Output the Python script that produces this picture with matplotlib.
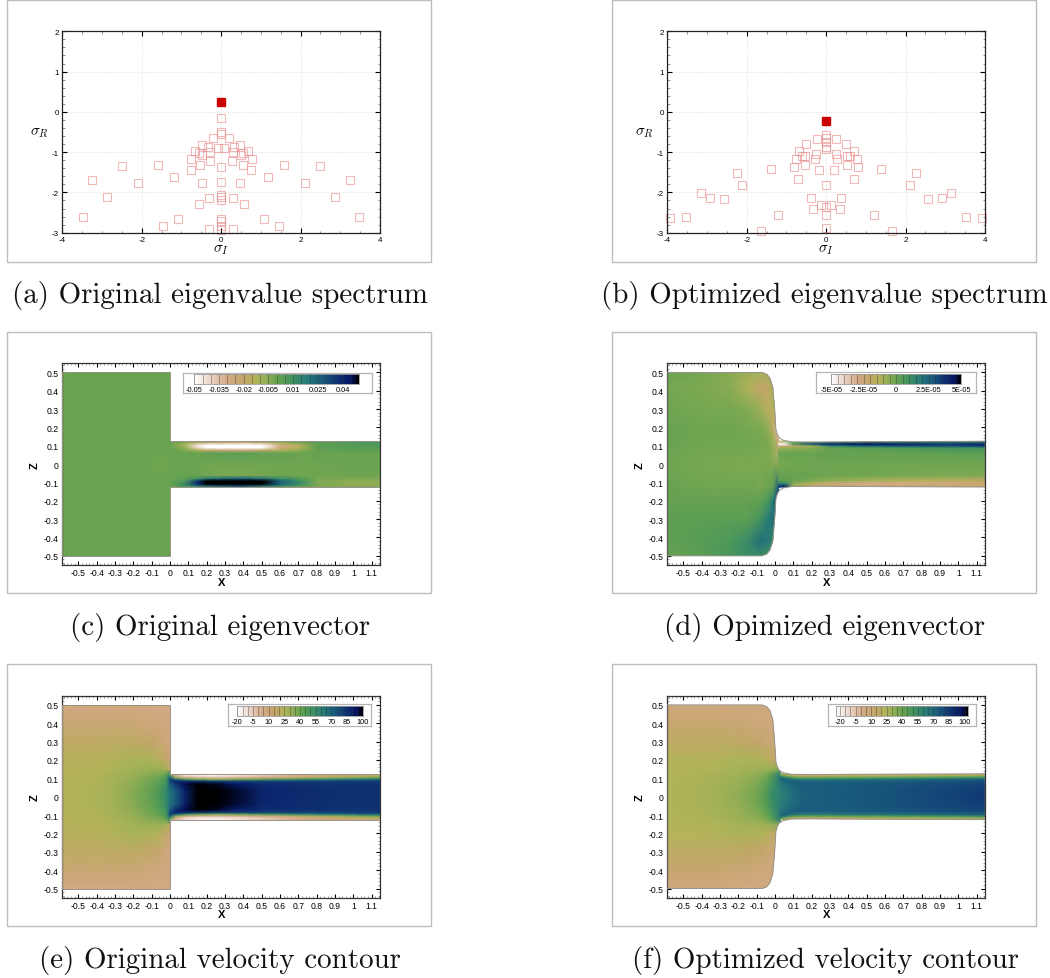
import numpy as np
import matplotlib
matplotlib.use("Agg")
import matplotlib.pyplot as plt
from matplotlib.colors import LinearSegmentedColormap, Normalize
from matplotlib.patches import Polygon, Rectangle
from matplotlib.ticker import MultipleLocator

W = 1050
H = 979

plt.rcParams['font.family'] = ['Liberation Sans', 'DejaVu Sans']
plt.rcParams['mathtext.fontset'] = 'cm'

# eigenvalue spectra, pairs are +/- sigma_I
a_unstable = (0.0, 0.25)
a_center = [-0.16, -0.5, -0.56, -1.38, -1.73, -2.07, -2.12, -2.19, -2.65, -2.71, -2.84, -2.93]
a_pair_i = [0.2, 0.48, 0.32, 0.08, 0.67, 0.29, 0.56, 0.49, 0.77, 0.27, 0.54, 0.76, 1.59, 2.5,
            1.18, 3.25, 2.1, 0.47, 2.87, 0.3, 0.57, 3.48, 1.09, 1.46, 0.31]
a_pair_r = [-0.64, -0.83, -0.88, -0.9, -0.97, -1.0, -1.03, -1.06, -1.17, -1.22, -1.32, -1.45, -1.33, -1.34,
            -1.62, -1.69, -1.76, -1.76, -2.11, -2.15, -2.28, -2.6, -2.67, -2.83, -2.91]

b_unstable = (0.0, -0.215)
b_center = [-0.58, -0.66, -0.75, -0.87, -0.93, -1.82, -2.36, -2.56, -2.88]
b_pair_i = [0.24, 0.51, 0.69, 0.26, 0.61, 0.52, 0.27, 0.77, 0.52, 0.81, 0.19, 1.39, 2.25, 0.71,
            2.11, 3.15, 2.92, 2.56, 0.38, 0.13, 0.34, 1.2, 3.53, 3.93, 1.65]
b_pair_r = [-0.67, -0.79, -0.97, -1.04, -1.09, -1.09, -1.17, -1.17, -1.32, -1.38, -1.44, -1.41, -1.51, -1.66,
            -1.82, -2.01, -2.13, -2.17, -2.15, -2.31, -2.4, -2.55, -2.62, -2.63, -2.95]

spec_xticks = [-4, -2, 0, 2, 4]
spec_yticks = [-3, -2, -1, 0, 1, 2]
field_xticks = [-0.5, -0.4, -0.3, -0.2, -0.1, 0, 0.1, 0.2, 0.3, 0.4, 0.5, 0.6, 0.7, 0.8, 0.9, 1, 1.1]
field_xlabels = ['-0.5', '-0.4', '-0.3', '-0.2', '-0.1', '0', '0.1', '0.2', '0.3', '0.4', '0.5', '0.6',
                 '0.7', '0.8', '0.9', '1', '1.1']
field_zticks = [-0.5, -0.4, -0.3, -0.2, -0.1, 0, 0.1, 0.2, 0.3, 0.4, 0.5]
field_zlabels = ['-0.5', '-0.4', '-0.3', '-0.2', '-0.1', '0', '0.1', '0.2', '0.3', '0.4', '0.5']

# geometry: upper half wall of the original and optimized nozzle
orig_wall_x = [-0.589, 0.0, 0.0, 1.147]
orig_wall_z = [0.5, 0.5, 0.125, 0.125]
opt_wall_x = [-0.589, -0.07, -0.045, -0.028, -0.012, -0.002, 0.005, 0.012, 0.022, 0.045, 0.09, 0.2, 1.147]
opt_wall_z = [0.5, 0.5, 0.49, 0.47, 0.42, 0.3, 0.19, 0.165, 0.145, 0.13, 0.122, 0.121, 0.125]

# panel c, eigenvector original
c_plen_x = [-0.589, -0.1, 0.0]
c_plen_z = [-0.5, -0.1, 0.0, 0.1, 0.5]
c_plen_v = [[0, 0, 0],
            [0, 0, 0],
            [0, -0.0005, -0.001],
            [0, 0, 0],
            [0, 0, 0]]
c_chan_x = [0, 0.08, 0.15, 0.2, 0.3, 0.4, 0.5, 0.6, 0.7, 0.8, 1.0, 1.147]
c_chan_z = [-0.125, -0.118, -0.108, -0.09, -0.078, -0.06, 0, 0.06, 0.078, 0.09, 0.105, 0.118, 0.125]
c_chan_v = [[0, 0.002, 0.004, 0.006, 0.01, 0.01, 0.006, 0.003, 0.0, -0.002, -0.003, -0.003],
            [0, 0.008, 0.018, 0.024, 0.03, 0.032, 0.022, 0.012, 0.004, -0.003, -0.005, -0.004],
            [0, 0.012, 0.04, 0.06, 0.07, 0.075, 0.055, 0.025, 0.014, -0.003, -0.007, -0.006],
            [0, 0.006, 0.035, 0.055, 0.065, 0.07, 0.05, 0.025, 0.012, -0.003, -0.006, -0.005],
            [0, 0.002, 0.01, 0.018, 0.024, 0.026, 0.02, 0.012, 0.005, -0.002, -0.003, -0.003],
            [0, 0, 0.0, -0.002, -0.003, -0.003, -0.002, -0.001, -0.001, -0.001, -0.001, -0.001],
            [0, 0, -0.0005, -0.001, -0.001, -0.001, -0.001, -0.001, -0.001, -0.001, 0, 0],
            [0, 0, 0.0005, 0.002, 0.003, 0.003, 0.002, 0.001, 0.0, 0, 0, 0],
            [0, -0.003, -0.012, -0.02, -0.026, -0.028, -0.022, -0.014, -0.006, 0.001, 0.002, 0.002],
            [0, -0.007, -0.04, -0.06, -0.07, -0.07, -0.05, -0.026, -0.014, 0.002, 0.004, 0.005],
            [0, -0.012, -0.045, -0.065, -0.08, -0.08, -0.055, -0.028, -0.015, 0.002, 0.005, 0.006],
            [0, -0.005, -0.018, -0.025, -0.03, -0.032, -0.022, -0.01, -0.003, 0.003, 0.006, 0.008],
            [0, -0.002, -0.003, -0.005, -0.006, -0.006, -0.004, -0.002, 0, 0.002, 0.003, 0.004]]

# panel d, eigenvector optimized, values in 1e-5
d_plen_x = [-0.589, -0.4, -0.25, -0.15, -0.08, -0.04, -0.01, 0.02]
d_plen_z = [-0.5, -0.42, -0.3, -0.2, -0.13, 0, 0.13, 0.2, 0.3, 0.42, 0.5]
d_plen_v = [[0.0, 0.3, 0.8, 1.2, 1.2, 0.8, 0.5, 0.3],
            [0.2, 0.4, 0.6, 1.2, 2.2, 2.0, 1.2, 0.5],
            [0.2, 0.3, 0.3, 0.3, 0.9, 1.8, 2.3, 0.8],
            [0.1, 0.1, 0.1, 0.1, 0.2, 0.6, 1.8, 4],
            [0, -0.1, -0.1, -0.1, -0.2, 0, 0.3, 3],
            [-0.1, -0.2, -0.3, -0.3, -0.3, -0.3, -0.4, -0.5],
            [0, -0.1, -0.1, -0.1, -0.2, -0.3, -0.8, -3],
            [0, -0.1, -0.1, -0.2, -0.3, -0.6, -1.8, -4],
            [-0.1, -0.2, -0.2, -0.4, -0.8, -1.5, -1.5, -0.3],
            [-0.2, -0.3, -0.5, -1.2, -2.0, -2.0, -1.0, -0.3],
            [0, -0.2, -0.5, -0.8, -1, -0.8, -0.5, -0.3]]
d_chan_x = [0.02, 0.05, 0.1, 0.2, 0.3, 0.5, 0.7, 0.9, 1.147]
d_chan_z = [-0.125, -0.115, -0.105, -0.09, -0.06, 0, 0.06, 0.09, 0.1, 0.11, 0.125]
d_chan_v = [[4, 4, -0.5, -1, -1.3, -1.5, -1.5, -1.5, -1.8],
            [3, 3.5, -0.8, -2, -2.5, -2.6, -2.5, -2.4, -2.2],
            [1.5, 1.5, -0.5, -1.5, -2.5, -3, -3, -2.8, -2.2],
            [0.4, 0.3, 0, -0.3, -0.6, -1, -1.3, -1.5, -1.8],
            [0, 0, 0, 0, -0.1, -0.1, -0.2, -0.3, -0.3],
            [-0.3, -0.2, -0.1, -0.1, -0.1, -0.1, -0.1, -0.1, -0.1],
            [0, 0, 0, 0, 0.1, 0.1, 0.1, 0.2, 0.3],
            [-1, -0.8, -0.6, -0.5, 0.0, 0.3, 0.6, 0.8, 1],
            [-2.5, -2.5, -2, -1, 1.5, 2.5, 3, 3, 3.5],
            [-5, -5, 0.5, 3, 4, 4.5, 4, 3.5, 4],
            [-2, -1, -0.3, 0.5, 0.8, 1, 1, 1, 1.2]]

# panel e, velocity original, upper half only
e_plen_x = [-0.589, -0.4, -0.3, -0.2, -0.1, -0.05, -0.02, 0.0]
e_plen_z = [0, 0.05, 0.1, 0.125, 0.15, 0.2, 0.3, 0.4, 0.5]
e_plen_v = [[24, 26, 29, 35, 42, 50, 56, 64],
            [24, 26, 29, 34, 41, 48, 55, 68],
            [24, 25, 28, 32, 38, 42, 50, 75],
            [24, 25, 27, 30, 34, 36, 40, 60],
            [23, 24, 26, 29, 31, 31, 28, 18],
            [23, 23, 25, 27, 26, 22, 16, 10],
            [18, 18, 19, 19, 16, 12, 9, 7],
            [12, 12, 12, 11, 9, 8, 7, 6],
            [6, 6, 6, 6, 6, 6, 6, 6]]
e_chan_x = [0, 0.03, 0.08, 0.15, 0.25, 0.35, 0.5, 0.7, 0.9, 1.147]
e_chan_z = [0, 0.04, 0.07, 0.085, 0.095, 0.105, 0.115, 0.125]
e_chan_v = [[64, 72, 88, 106, 110, 98, 89, 86, 85, 85],
            [66, 74, 90, 106, 108, 97, 88, 86, 85, 85],
            [72, 84, 95, 100, 98, 92, 86, 85, 84, 84],
            [78, 88, 88, 85, 82, 80, 80, 80, 81, 82],
            [80, 70, 50, 40, 35, 38, 45, 55, 62, 68],
            [70, 30, 10, 2, 0, 2, 8, 20, 30, 40],
            [50, 5, -10, -15, -15, -12, -5, 5, 12, 22],
            [30, 0, -8, -12, -14, -10, -5, 5, 8, 15]]

# panel f, velocity optimized, upper half only
f_plen_x = [-0.589, -0.4, -0.3, -0.2, -0.1, -0.05, -0.02, 0.03]
f_plen_z = [0, 0.05, 0.1, 0.125, 0.15, 0.2, 0.3, 0.4, 0.5]
f_plen_v = [[24, 26, 28, 32, 38, 46, 55, 60],
            [24, 26, 28, 31, 37, 44, 52, 62],
            [24, 25, 27, 29, 34, 39, 47, 65],
            [24, 25, 26, 28, 31, 35, 41, 62],
            [23, 24, 25, 27, 28, 30, 30, 35],
            [23, 23, 24, 25, 25, 22, 18, 14],
            [18, 18, 18, 17, 15, 11, 8, 6],
            [12, 12, 11, 10, 8, 7, 6, 6],
            [6, 6, 6, 5, 5, 5, 5, 5]]
f_chan_x = [0.03, 0.06, 0.1, 0.15, 0.25, 0.35, 0.5, 0.7, 0.9, 1.147]
f_chan_z = [0, 0.05, 0.08, 0.095, 0.105, 0.115, 0.125]
f_chan_v = [[60, 63, 68, 72, 74, 75, 76, 78, 81, 85],
            [62, 65, 70, 73, 74, 75, 76, 78, 80, 83],
            [65, 70, 74, 74, 74, 74, 75, 76, 78, 80],
            [70, 72, 66, 62, 62, 64, 65, 67, 70, 73],
            [70, 60, 45, 40, 40, 42, 44, 47, 50, 55],
            [50, 35, 20, 18, 18, 20, 22, 25, 28, 32],
            [30, 15, 5, 5, 5, 6, 7, 8, 10, 12]]

# colour bar labels
c_bar_ticks = [-0.05, -0.035, -0.02, -0.005, 0.01, 0.025, 0.04]
c_bar_labels = ['-0.05', '-0.035', '-0.02', '-0.005', '0.01', '0.025', '0.04']
d_bar_ticks = [-5, -2.5, 0, 2.5, 5]
d_bar_labels = ['-5E-05', '-2.5E-05', '0', '2.5E-05', '5E-05']
v_bar_ticks = [-20, -5, 10, 25, 40, 55, 70, 85, 100]
v_bar_labels = ['-20', '-5', '10', '25', '40', '55', '70', '85', '100']

captions = ['(a) Original eigenvalue spectrum', '(b) Optimized eigenvalue spectrum',
            '(c) Original eigenvector', '(d) Opimized eigenvector',
            '(e) Original velocity contour', '(f) Optimized velocity contour']

cmap = LinearSegmentedColormap.from_list('tec', [
    (0.0, (1, 1, 1)),
    (0.1, (235/255, 212/255, 200/255)),
    (0.2, (212/255, 170/255, 135/255)),
    (0.3, (195/255, 165/255, 105/255)),
    (0.37, (180/255, 180/255, 90/255)),
    (0.43, (150/255, 175/255, 85/255)),
    (0.5, (105/255, 163/255, 80/255)),
    (0.58, (70/255, 150/255, 92/255)),
    (0.68, (40/255, 125/255, 120/255)),
    (0.78, (25/255, 90/255, 125/255)),
    (0.87, (15/255, 50/255, 115/255)),
    (0.95, (5/255, 20/255, 100/255)),
    (1.0, (0, 0, 0))])

fig = plt.figure(figsize=(W/100, H/100), dpi=100)


def px_axes(x0, y0, x1, y1, **kw):
    return fig.add_axes([x0/W, 1 - y1/H, (x1 - x0)/W, (y1 - y0)/H], **kw)


def frame(x0, y0, x1, y1):
    fig.add_artist(Rectangle((x0/W, 1 - y1/H), (x1 - x0)/W, (y1 - y0)/H, transform=fig.transFigure,
                             fill=False, edgecolor='#bdbdbd', linewidth=1.0))


def spectrum(box, unstable, center, pair_i, pair_r):
    ax = px_axes(*box)
    xs = np.concatenate([-np.array(pair_i), pair_i, np.zeros(len(center))])
    ys = np.concatenate([pair_r, pair_r, center])
    ax.plot(xs, ys, ls='none', marker='s', ms=5.3, mfc='none', mec='#e88a8a', mew=0.8, alpha=0.6, clip_on=False)
    ax.plot(unstable[0], unstable[1], ls='none', marker='s', ms=5.8, color='#cc0000')
    ax.set_xlim(-4, 4)
    ax.set_ylim(-3, 2)
    ax.set_xticks(spec_xticks)
    ax.set_xticklabels([str(v) for v in spec_xticks])
    ax.set_yticks(spec_yticks)
    ax.set_yticklabels([str(v) for v in spec_yticks])
    ax.xaxis.set_minor_locator(MultipleLocator(0.5))
    ax.yaxis.set_minor_locator(MultipleLocator(0.2))
    ax.grid(True, which='major', color='#d8d8d8', linestyle=':', linewidth=0.6)
    ax.set_axisbelow(True)
    ax.tick_params(which='major', direction='in', top=True, right=True, length=3.5, width=0.8, labelsize=5.8, pad=2.5)
    ax.tick_params(which='minor', direction='in', top=True, right=True, length=1.8, width=0.5, color='#666666')
    for s in ax.spines.values():
        s.set_linewidth(0.9)
        s.set_color('#222222')
    ax.set_xlabel(r'$\sigma_I$', fontsize=11, labelpad=-1)
    ax.set_ylabel(r'$\sigma_R$', fontsize=11, rotation=0, va='center', labelpad=9)
    return ax


def field(box, wall_x, wall_z, zones, vmin, vmax):
    ax = px_axes(*box)
    norm = Normalize(vmin, vmax)
    wx = np.array(wall_x)
    wz = np.array(wall_z)
    outline = np.column_stack([np.concatenate([wx, wx[::-1]]), np.concatenate([wz, -wz[::-1]])])
    patch = Polygon(outline, closed=True, facecolor='none', edgecolor='#98928a', linewidth=0.7, zorder=3)
    ax.add_patch(patch)
    for zx, zz, zv in zones:
        mesh = ax.pcolormesh(zx, zz, zv, cmap=cmap, norm=norm, shading='gouraud', zorder=2)
        mesh.set_clip_path(patch)
    ax.set_xlim(-0.589, 1.147)
    ax.set_ylim(-0.55, 0.55)
    ax.set_xticks(field_xticks)
    ax.set_xticklabels(field_xlabels)
    ax.set_yticks(field_zticks)
    ax.set_yticklabels(field_zlabels)
    ax.xaxis.set_minor_locator(MultipleLocator(0.02))
    ax.yaxis.set_minor_locator(MultipleLocator(0.02))
    ax.tick_params(which='major', direction='in', top=True, right=True, length=3.2, width=0.8, labelsize=6.2, pad=2.5)
    ax.tick_params(which='minor', direction='in', top=True, right=True, length=1.6, width=0.4, color='#555555')
    for s in ax.spines.values():
        s.set_linewidth(0.9)
        s.set_color('#333333')
    ax.set_xlabel('X', fontsize=8, fontweight='bold', labelpad=-0.5)
    ax.set_ylabel('Z', fontsize=8, fontweight='bold', labelpad=3)
    return ax


def mirror(z, v):
    # velocity panels are symmetric, only the upper half is listed
    z = np.array(z, dtype=float)
    v = np.array(v, dtype=float)
    return np.concatenate([-z[:0:-1], z]), np.concatenate([v[:0:-1], v])


def scale_bar(box, bar, vmin, vmax, step, ticks, labels, fs=5.3):
    bg = px_axes(*box, zorder=5)
    bg.set_xticks([])
    bg.set_yticks([])
    for s in bg.spines.values():
        s.set_color('#b5b5b5')
        s.set_linewidth(0.9)
    ax = px_axes(*bar, zorder=6)
    grad = np.linspace(vmin, vmax, 256).reshape(1, -1)
    ax.imshow(grad, aspect='auto', cmap=cmap, extent=[vmin, vmax, 0, 1], vmin=vmin, vmax=vmax)
    first = np.ceil(vmin/step)*step
    ax.vlines(np.arange(first, vmax + step/2, step), 0, 1, color='#333333', linewidth=0.5, alpha=0.55)
    ax.set_yticks([])
    ax.set_xticks(ticks)
    ax.set_xticklabels(labels)
    ax.set_xlim(vmin, vmax)
    ax.set_ylim(0, 1)
    ax.tick_params(axis='x', length=0, labelsize=fs, pad=1.5)
    for s in ax.spines.values():
        s.set_color('#999999')
        s.set_linewidth(0.6)


# outer frames
for fb in [(7.3, 1, 430.7, 262.5), (612.3, 1, 1035.7, 262.5),
           (7.3, 333.3, 430.7, 594.3), (612.3, 333.3, 1035.7, 594.3),
           (7.3, 665, 430.7, 927.3), (612.3, 665, 1035.7, 927.3)]:
    frame(*fb)

spectrum((62.3, 32.3, 380, 233.7), a_unstable, a_center, a_pair_i, a_pair_r)
spectrum((667.3, 32.3, 985, 233.7), b_unstable, b_center, b_pair_i, b_pair_r)

field((62, 364.3, 380.3, 566), orig_wall_x, orig_wall_z,
      [(c_plen_x, c_plen_z, c_plen_v), (c_chan_x, c_chan_z, c_chan_v)], -0.05, 0.05)
field((667, 364.3, 985.3, 566), opt_wall_x, opt_wall_z,
      [(d_plen_x, d_plen_z, d_plen_v), (d_chan_x, d_chan_z, d_chan_v)], -5, 5)

ep_z, ep_v = mirror(e_plen_z, e_plen_v)
ec_z, ec_v = mirror(e_chan_z, e_chan_v)
field((62, 696.7, 380.3, 898.7), orig_wall_x, orig_wall_z,
      [(e_plen_x, ep_z, ep_v), (e_chan_x, ec_z, ec_v)], -20, 100)
fp_z, fp_v = mirror(f_plen_z, f_plen_v)
fc_z, fc_v = mirror(f_chan_z, f_chan_v)
field((667, 696.7, 985.3, 898.7), opt_wall_x, opt_wall_z,
      [(f_plen_x, fp_z, fp_v), (f_chan_x, fc_z, fc_v)], -23.5, 103)

scale_bar((182.7, 374, 371.7, 394.3), (194.3, 375, 359, 385), -0.05, 0.05, 0.005, c_bar_ticks, c_bar_labels)
scale_bar((816, 373.3, 976, 394.3), (831.3, 375, 961, 385), -5, 5, 0.5, d_bar_ticks, d_bar_labels)
scale_bar((228.3, 705, 371, 727), (237.3, 707.3, 362.7, 717.3), -20, 100, 5, v_bar_ticks, v_bar_labels)
scale_bar((828, 705, 976, 727), (836.3, 707.3, 967.7, 717.3), -23.5, 103, 5, v_bar_ticks, v_bar_labels)

# captions
cap_x = [220, 824, 219.5, 824.5, 219.5, 825]
cap_y = [295, 295, 627, 627, 960, 960]
for t, cx, cy in zip(captions, cap_x, cap_y):
    fig.text(cx/W, 1 - cy/H, t, family='cmr10', fontsize=20.9, ha='center', va='center', color='#111111')

fig.savefig('out.png', dpi=100)
